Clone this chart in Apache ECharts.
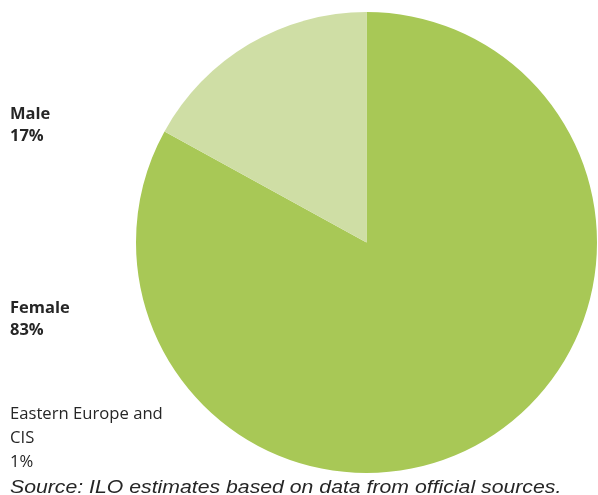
<!DOCTYPE html>
<html><head><meta charset="utf-8">
<script src="https://cdn.jsdelivr.net/npm/echarts@6/dist/echarts.min.js"></script>
<style>html,body{margin:0;padding:0;background:#fff}#c{width:598px;height:495px}</style>
</head><body><div id="c"></div>
<script>
const categories = ['Female', 'Male'];
const values = [83, 17];
const colors = ['#a8c856', '#cfdea5'];
const extraLabel = ['Eastern Europe and', 'CIS', '1%'];
const source = 'Source: ILO estimates based on data from official sources.';

const chart = echarts.init(document.getElementById('c'));
const lab = (name, v, top) => ({
  type: 'text', left: 10, top: top, scaleX: 1.03,
  style: { text: name + '\n' + v + '%', font: 'bold 16px "Open Sans", sans-serif', fill: '#262626', lineHeight: 22 }
});
chart.setOption({
  backgroundColor: '#fff',
  animation: false,
  series: [{
    type: 'pie',
    center: [366.5, 242.5],
    radius: 230.5,
    startAngle: 90,
    clockwise: true,
    label: { show: false },
    labelLine: { show: false },
    emphasis: { disabled: true },
    data: categories.map((c, i) => ({ name: c, value: values[i], itemStyle: { color: colors[i] } }))
  }],
  graphic: [
    lab(categories[1], values[1], 103),
    lab(categories[0], values[0], 297),
    { type: 'text', left: 10, top: 402, scaleX: 1.04, style: { text: extraLabel.join('\n'), font: '16px "Open Sans", sans-serif', fill: '#262626', lineHeight: 24 } },
    { type: 'text', left: 10, top: 479, scaleX: 1.18, style: { text: source, font: 'italic 18px "Liberation Sans", Arial, sans-serif', fill: '#262626' } }
  ]
});
</script></body></html>
